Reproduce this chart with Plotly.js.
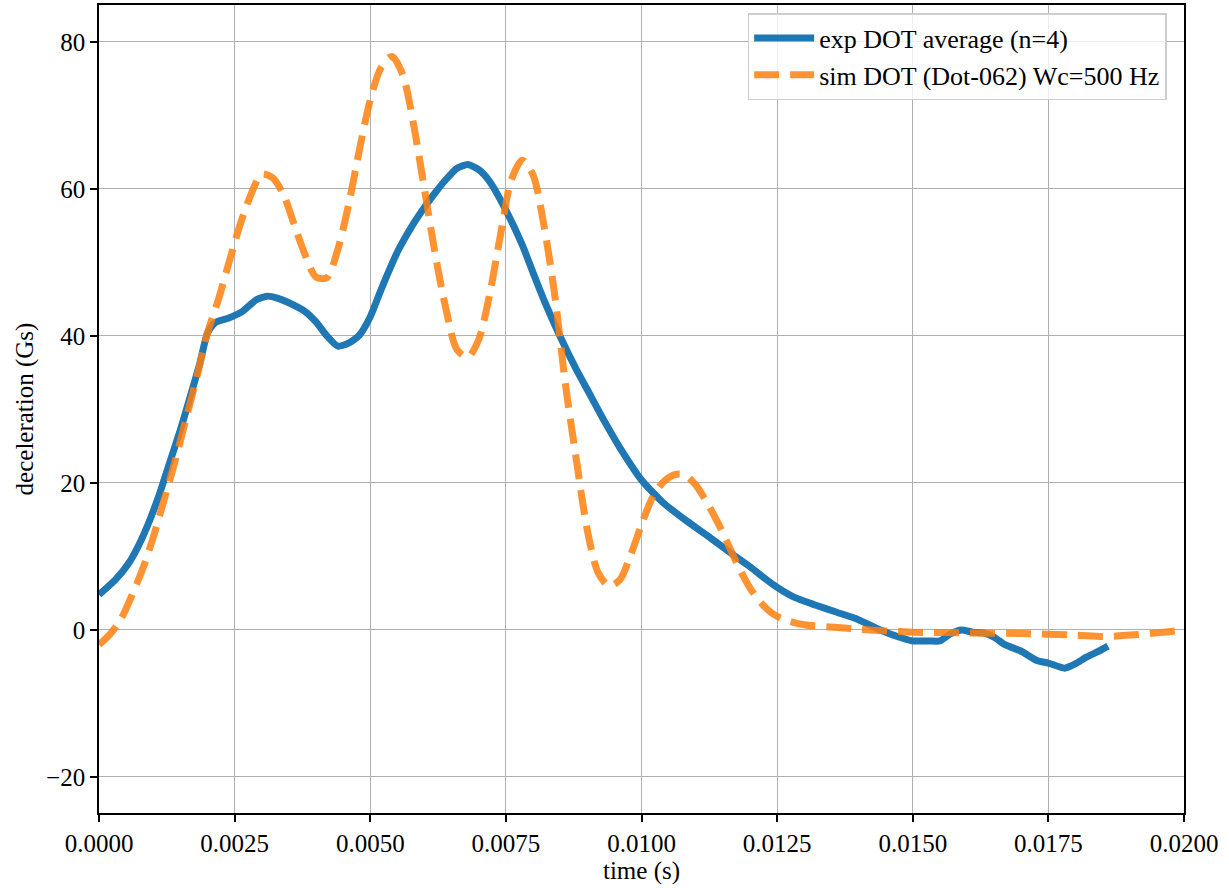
<!DOCTYPE html>
<html>
<head>
<meta charset="utf-8">
<script src="https://cdn.plot.ly/plotly-3.0.1.min.js"></script>
<style>html,body{margin:0;padding:0;background:#fff;}#chart{width:1229px;height:888px;}</style>
</head>
<body>
<div id="chart"></div>
<script>
var expTime = [0, 0.0003, 0.00055, 0.00075, 0.00095, 0.00112, 0.0013, 0.0015, 0.00168, 0.00186, 0.002, 0.00214, 0.00238, 0.00264, 0.0029, 0.0031, 0.0033, 0.0035, 0.0038, 0.004, 0.0042, 0.0044, 0.0046, 0.0048, 0.005, 0.0052, 0.0055, 0.0058, 0.006, 0.0062, 0.0064, 0.0066, 0.0068, 0.007, 0.0072, 0.0075, 0.0078, 0.008, 0.0082, 0.0085, 0.0088, 0.009, 0.0093, 0.0096, 0.01, 0.0104, 0.0108, 0.0112, 0.0116, 0.012, 0.0124, 0.0128, 0.0132, 0.0136, 0.014, 0.0144, 0.0148, 0.015, 0.0153, 0.0155, 0.0157, 0.0159, 0.0161, 0.0163, 0.0165, 0.0167, 0.017, 0.0173, 0.0175, 0.0178, 0.018, 0.0182, 0.0184, 0.0186];
var expDecel = [4.8, 6.8, 9.1, 11.8, 15.2, 18.6, 22.7, 27.2, 31.7, 36.3, 40.4, 41.8, 42.4, 43.3, 44.9, 45.4, 45.1, 44.5, 43.3, 41.9, 40.0, 38.6, 39.0, 40.1, 42.6, 46.3, 51.4, 55.3, 57.5, 59.5, 61.3, 62.8, 63.3, 62.6, 61.0, 57.1, 52.4, 48.6, 44.9, 39.9, 35.4, 32.7, 28.6, 24.8, 20.4, 17.3, 15.0, 12.9, 10.7, 8.6, 6.3, 4.5, 3.4, 2.4, 1.4, 0.0, -1.1, -1.5, -1.5, -1.5, -0.5, 0.0, -0.3, -0.4, -1.0, -2.0, -2.9, -4.2, -4.5, -5.2, -4.6, -3.7, -3.0, -2.2];

var simTime = [0, 0.0002, 0.0004, 0.0006, 0.0008, 0.001, 0.0012, 0.0014, 0.0016, 0.0018, 0.002, 0.0022, 0.0024, 0.0026, 0.0028, 0.003, 0.0032, 0.0034, 0.0036, 0.0038, 0.004, 0.0042, 0.0044, 0.0046, 0.0048, 0.005, 0.0052, 0.0054, 0.0056, 0.0058, 0.006, 0.0062, 0.0064, 0.0066, 0.0068, 0.007, 0.0072, 0.0074, 0.0076, 0.0078, 0.008, 0.0082, 0.0084, 0.0086, 0.0088, 0.009, 0.0092, 0.0094, 0.0096, 0.0098, 0.01, 0.0102, 0.0104, 0.0106, 0.0108, 0.011, 0.0112, 0.0114, 0.0116, 0.0118, 0.012, 0.0122, 0.0124, 0.0126, 0.013, 0.0135, 0.014, 0.015, 0.016, 0.017, 0.018, 0.0185, 0.019, 0.0195, 0.02];
var simDecel = [-2.0, -0.6, 1.4, 4.6, 8.2, 12.6, 17.7, 22.9, 28.6, 34.3, 40.4, 44.9, 50.1, 55.1, 59.2, 62.0, 61.5, 59.2, 55.1, 51.0, 48.0, 47.9, 51.7, 57.8, 65.3, 72.1, 76.5, 78.0, 75.5, 68.7, 59.9, 51.0, 43.5, 38.1, 37.1, 39.5, 45.6, 53.7, 61.2, 63.9, 61.9, 55.1, 45.6, 33.3, 23.1, 13.6, 7.8, 6.0, 6.8, 10.2, 14.3, 18.0, 20.1, 21.1, 21.1, 19.7, 17.4, 14.7, 11.6, 8.4, 5.7, 3.7, 2.3, 1.5, 0.7, 0.4, 0.1, -0.3, -0.4, -0.5, -0.7, -0.9, -0.7, -0.4, 0.0];

var xTicks = [0, 0.0025, 0.005, 0.0075, 0.01, 0.0125, 0.015, 0.0175, 0.02];
var yTicks = [-20, 0, 20, 40, 60, 80];
var seriesNames = ['exp DOT average (n=4)', 'sim DOT (Dot-062) Wc=500 Hz'];

var fontFam = '"Liberation Serif", "DejaVu Serif", serif';
var fs = 25;

var traces = [
  {x: expTime, y: expDecel, mode: 'lines', name: seriesNames[0],
   line: {color: '#1f77b4', width: 7, shape: 'spline', smoothing: 0.6}},
  {x: simTime, y: simDecel, mode: 'lines', name: seriesNames[1], opacity: 0.85,
   line: {color: '#ff7f0e', width: 7, dash: '25px,11px', shape: 'spline', smoothing: 0.8}}
];

var axisCommon = {
  showline: true, linecolor: '#000', linewidth: 1.6, mirror: true,
  ticks: 'outside', ticklen: 7, tickwidth: 1.6, tickcolor: '#000',
  showgrid: true, gridcolor: '#b0b0b0', gridwidth: 1.4,
  zeroline: false,
  tickfont: {family: fontFam, size: fs, color: '#000'}
};

var layout = {
  width: 1229, height: 888,
  margin: {l: 99, r: 45, t: 5, b: 75},
  paper_bgcolor: '#fff', plot_bgcolor: '#fff',
  font: {family: fontFam, size: fs, color: '#000'},
  showlegend: true,
  legend: {
    x: 0.984, y: 0.99, xanchor: 'right', yanchor: 'top',
    bgcolor: 'rgba(255,255,255,0.8)', bordercolor: '#cccccc', borderwidth: 1.5,
    font: {family: fontFam, size: 26, color: '#000'},
    itemwidth: 60, tracegroupgap: 0
  },
  xaxis: Object.assign({}, axisCommon, {
    range: [0, 0.02], tickvals: xTicks, tickformat: '.4f',
    title: {text: 'time (s)', font: {family: fontFam, size: fs, color: '#000'}, standoff: 6}
  }),
  yaxis: Object.assign({}, axisCommon, {
    range: [-24.9, 85.0], tickvals: yTicks,
    title: {text: 'deceleration (Gs)', font: {family: fontFam, size: fs, color: '#000'}, standoff: 5}
  })
};

Plotly.newPlot('chart', traces, layout, {displayModeBar: false, responsive: false});
</script>
</body>
</html>
